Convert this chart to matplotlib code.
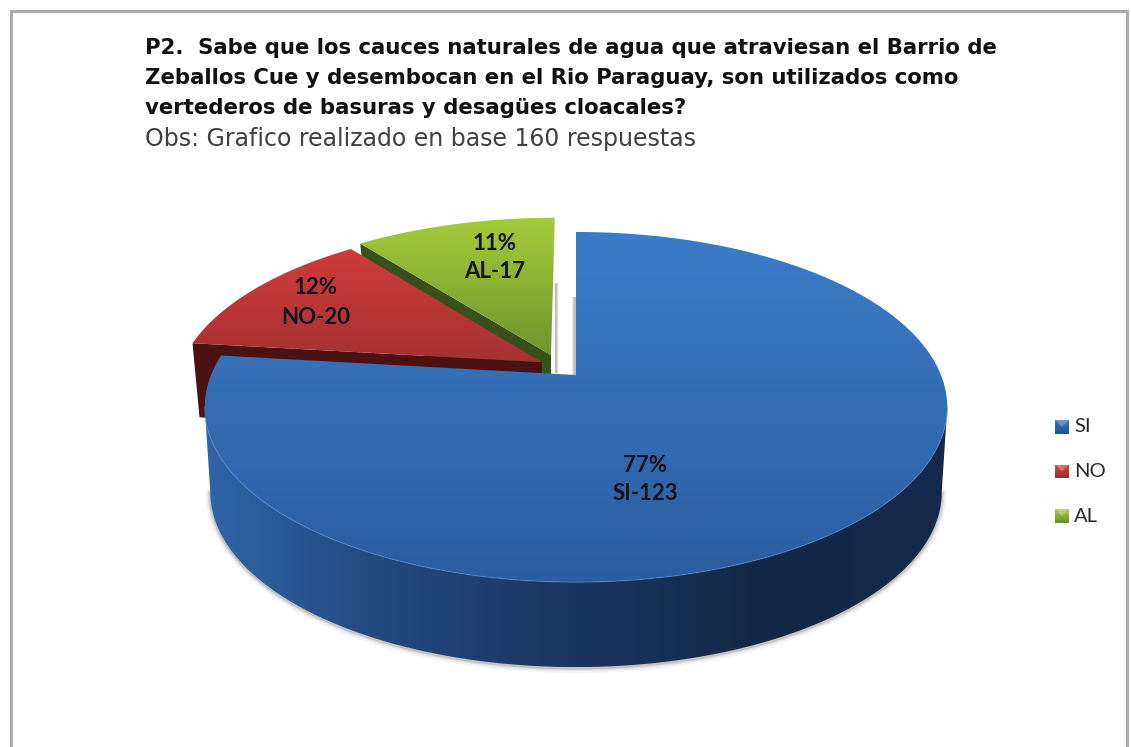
import numpy as np
import matplotlib
matplotlib.use("Agg")
import matplotlib.pyplot as plt
from matplotlib.colors import LinearSegmentedColormap
from matplotlib.patches import Polygon

# datos
labels = ["SI", "NO", "AL"]
counts = [123, 20, 17]
percents = ["77%", "12%", "11%"]
title_lines = ["P2.  Sabe que los cauces naturales de agua que atraviesan el Barrio de",
               "Zeballos Cue y desembocan en el Rio Paraguay, son utilizados como",
               "vertederos de basuras y desagües cloacales?"]
subtitle = "Obs: Grafico realizado en base 160 respuestas"

W, H = 1131, 747
cx, cy = 576, 375      # centro de la torta en pixeles
rx, ry = 365, 169.2
k = 0.183              # perspectiva
depth = 85
offsets = {"SI": (0, 0), "NO": (-0.095, 0.077), "AL": (-0.07, 0.12)}

fig = plt.figure(figsize=(W / 100, H / 100), dpi=100)
ax = fig.add_axes([0, 0, 1, 1])
ax.axis("off")


def proj(u, v, bottom=False):
    s = 1 / (1 + k * v)
    x = cx + rx * u * s
    y = cy - ry * v * s
    if bottom:
        x = cx + (x - cx) * 0.985
        y = y + depth
    return np.column_stack([x, y])


def grad_fill(pts, c1, c2, vertical=True, z=2):
    cmap = LinearSegmentedColormap.from_list("g", [c1, c2])
    poly = Polygon(pts, closed=True, fc="none", ec="none", zorder=z)
    ax.add_patch(poly)
    g = np.linspace(0, 1, 256)
    g = g.reshape(-1, 1) if vertical else g.reshape(1, -1)
    x0, y0 = pts.min(axis=0)
    x1, y1 = pts.max(axis=0)
    im = ax.imshow(g, cmap=cmap, extent=[x0, x1, y1, y0], aspect="auto", zorder=z, origin="upper")
    im.set_clip_path(poly)


# angulos a partir de los valores, sentido horario desde las 12
fracs = np.array(counts) / sum(counts)
ends = 90 - np.cumsum(fracs) * 360
starts = np.r_[90, ends[:-1]]


def wedge_top(i):
    ou, ov = offsets[labels[i]]
    t = np.radians(np.linspace(starts[i], ends[i], 200))
    u = np.r_[ou, np.cos(t) + ou]
    v = np.r_[ov, np.sin(t) + ov]
    return proj(u, v)


def radial_side(i, angle):
    ou, ov = offsets[labels[i]]
    t = np.radians(angle)
    tip = proj(np.array([ou]), np.array([ov]))[0]
    out = proj(np.array([np.cos(t) + ou]), np.array([np.sin(t) + ov]))[0]
    return np.array([tip, out, out + [7, depth - 11], tip + [0, depth]])


# verde
side = radial_side(2, starts[2])
ax.add_patch(Polygon(side, closed=True, fc="#38501a", ec="none", zorder=2))
grad_fill(wedge_top(2), "#a6cc3c", "#6c962c", z=3)

# rojo
side = radial_side(1, starts[1])
ax.add_patch(Polygon(side, closed=True, fc="#4a1210", ec="none", zorder=4))
grad_fill(wedge_top(1), "#d03b3b", "#a53131", z=5)

# sombras del hueco
shadow = LinearSegmentedColormap.from_list("sh", ["#ffffff", "#bdbdbd"])
for x0, x1, y0, y1 in [(555, 560, 283, 373), (570, 576, 297, 377)]:
    ax.imshow(np.array([[1.0, 0.0]]) if x0 == 555 else np.array([[0.0, 1.0]]), cmap=shadow, vmin=0, vmax=1,
              extent=[x0, x1, y1, y0], aspect="auto", zorder=1, interpolation="bilinear")

# azul: lateral
a0 = 180 + np.degrees(np.arcsin(k))
t = np.radians(np.linspace(a0, 360 - np.degrees(np.arcsin(k)), 300))
top_arc = proj(np.cos(t), np.sin(t))
bot_arc = proj(np.cos(t), np.sin(t), bottom=True)
side_pts = np.vstack([top_arc, bot_arc[::-1]])

# sombra suave debajo
for w, al in [(7, 0.07), (4, 0.12), (2, 0.2)]:
    ax.plot(bot_arc[:, 0], bot_arc[:, 1] + 1, color="#555555", lw=w, alpha=al, zorder=5.5,
            solid_capstyle="round")

cmap_side = LinearSegmentedColormap.from_list("s", ["#2f64a8", "#22487c", "#1a3560", "#132845", "#15294a"])
poly = Polygon(side_pts, closed=True, fc="none", ec="none", zorder=6)
ax.add_patch(poly)
im = ax.imshow(np.linspace(0, 1, 256).reshape(1, -1), cmap=cmap_side, aspect="auto", zorder=6,
               extent=[side_pts[:, 0].min(), side_pts[:, 0].max(), side_pts[:, 1].max(), side_pts[:, 1].min()])
im.set_clip_path(poly)

# azul: tapa
blue_top = wedge_top(0)
grad_fill(blue_top, "#3b7cca", "#2c5d9f", z=7)
ax.plot(top_arc[:, 0], top_arc[:, 1], color="#4a86cf", lw=1.0, alpha=0.5, zorder=8)

# etiquetas
label_font = "Lato"
label_xy = [(645, 465, 494), (316, 288, 317), (495, 243, 272)]
for i, name in enumerate(labels):
    x, y1, y2 = label_xy[i]
    col = "#14141e"
    ax.text(x, y1, percents[i], ha="center", va="center", fontsize=16, fontweight="bold",
            family=label_font, color=col, zorder=10)
    ax.text(x, y2, f"{name}-{counts[i]}", ha="center", va="center", fontsize=16, fontweight="bold",
            family=label_font, color=col, zorder=10)

# leyenda
legend_cols = [("#2f78cc", "#23508c"), ("#d8484a", "#9a2c2c"), ("#a8cc44", "#6a8c30")]
for i, name in enumerate(labels):
    y = 427 + i * 44.5
    box = np.array([[1055, y - 7], [1069, y - 7], [1069, y + 7], [1055, y + 7]], dtype=float)
    grad_fill(box, legend_cols[i][0], legend_cols[i][1], z=10)
    ax.add_patch(Polygon([[1055, y - 7], [1069, y - 7], [1062, y]], closed=True, fc="white", alpha=0.25, ec="none", zorder=10.5))
    ax.text(1074, y, name, ha="left", va="center", fontsize=14.5, family="Lato", color="#2a2a2a", zorder=10)

# titulo
title_y = [48, 78, 108]
for line, y in zip(title_lines, title_y):
    ax.text(145, y, line, ha="left", va="center", fontsize=15.3, fontweight="bold", family="DejaVu Sans",
            color="#111111", zorder=10)
ax.text(145, 139, subtitle, ha="left", va="center", fontsize=17, family="DejaVu Sans", color="#404040", zorder=10)

# marco
ax.plot([11, 11, 1127, 1127], [H, 11, 11, H], color="#ababab", lw=2.2, zorder=11,
        solid_joinstyle="miter")

ax.set_xlim(0, W)
ax.set_ylim(H, 0)
fig.savefig("out.png", dpi=100, facecolor="white")
